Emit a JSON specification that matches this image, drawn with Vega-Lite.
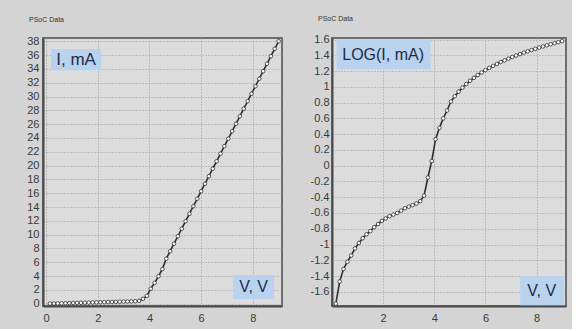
{
  "$schema": "https://vega.github.io/schema/vega-lite/v6.json",
  "background": "#d4d4d4",
  "padding": {"left": 12, "top": 13, "right": 5, "bottom": 5},
  "spacing": 17,
  "config": {
    "view": {"fill": "#dcdcdc", "stroke": "#6e6e6e", "strokeWidth": 2},
    "axis": {
      "grid": true, "gridColor": "#9c9c9c", "gridDash": [1, 2], "gridWidth": 1,
      "domainColor": "#4a4a4a", "domainWidth": 2, "ticks": false,
      "labelFont": "Liberation Sans", "labelFontSize": 11, "labelColor": "#3a3a3a",
      "labelOverlap": false, "labelBound": false, "labelFlush": false,
      "tickCount": 40,
      "title": null
    },
    "title": {"font": "Liberation Sans", "fontSize": 7, "fontWeight": "normal", "color": "#333333", "anchor": "start", "offset": 12, "dx": 16}
  },
  "datasets": {
    "iv": [
      {"V": 0.15, "I": 0.018, "L": -1.75},
      {"V": 0.30, "I": 0.034, "L": -1.47},
      {"V": 0.45, "I": 0.049, "L": -1.31},
      {"V": 0.60, "I": 0.060, "L": -1.22},
      {"V": 0.75, "I": 0.072, "L": -1.14},
      {"V": 0.90, "I": 0.089, "L": -1.05},
      {"V": 1.05, "I": 0.105, "L": -0.98},
      {"V": 1.20, "I": 0.120, "L": -0.92},
      {"V": 1.35, "I": 0.135, "L": -0.87},
      {"V": 1.50, "I": 0.148, "L": -0.83},
      {"V": 1.65, "I": 0.166, "L": -0.78},
      {"V": 1.80, "I": 0.182, "L": -0.74},
      {"V": 1.95, "I": 0.200, "L": -0.70},
      {"V": 2.10, "I": 0.214, "L": -0.67},
      {"V": 2.25, "I": 0.229, "L": -0.64},
      {"V": 2.40, "I": 0.240, "L": -0.62},
      {"V": 2.55, "I": 0.251, "L": -0.60},
      {"V": 2.70, "I": 0.269, "L": -0.57},
      {"V": 2.85, "I": 0.288, "L": -0.54},
      {"V": 3.00, "I": 0.302, "L": -0.52},
      {"V": 3.15, "I": 0.316, "L": -0.50},
      {"V": 3.30, "I": 0.331, "L": -0.48},
      {"V": 3.45, "I": 0.355, "L": -0.45},
      {"V": 3.60, "I": 0.417, "L": -0.38},
      {"V": 3.75, "I": 0.708, "L": -0.15},
      {"V": 3.90, "I": 1.148, "L": 0.06},
      {"V": 4.05, "I": 2.17, "L": 0.336},
      {"V": 4.20, "I": 3.02, "L": 0.48},
      {"V": 4.35, "I": 3.98, "L": 0.60},
      {"V": 4.50, "I": 5.01, "L": 0.70},
      {"V": 4.65, "I": 6.52, "L": 0.814},
      {"V": 4.80, "I": 7.60, "L": 0.881},
      {"V": 4.95, "I": 8.69, "L": 0.939},
      {"V": 5.10, "I": 9.77, "L": 0.990},
      {"V": 5.25, "I": 10.86, "L": 1.036},
      {"V": 5.40, "I": 11.95, "L": 1.077},
      {"V": 5.55, "I": 13.03, "L": 1.115},
      {"V": 5.70, "I": 14.12, "L": 1.150},
      {"V": 5.85, "I": 15.20, "L": 1.182},
      {"V": 6.00, "I": 16.29, "L": 1.212},
      {"V": 6.15, "I": 17.38, "L": 1.240},
      {"V": 6.30, "I": 18.46, "L": 1.266},
      {"V": 6.45, "I": 19.55, "L": 1.291},
      {"V": 6.60, "I": 20.63, "L": 1.315},
      {"V": 6.75, "I": 21.72, "L": 1.337},
      {"V": 6.90, "I": 22.81, "L": 1.358},
      {"V": 7.05, "I": 23.89, "L": 1.378},
      {"V": 7.20, "I": 24.98, "L": 1.398},
      {"V": 7.35, "I": 26.06, "L": 1.416},
      {"V": 7.50, "I": 27.15, "L": 1.434},
      {"V": 7.65, "I": 28.24, "L": 1.451},
      {"V": 7.80, "I": 29.32, "L": 1.467},
      {"V": 7.95, "I": 30.41, "L": 1.483},
      {"V": 8.10, "I": 31.49, "L": 1.498},
      {"V": 8.25, "I": 32.58, "L": 1.513},
      {"V": 8.40, "I": 33.67, "L": 1.527},
      {"V": 8.55, "I": 34.75, "L": 1.541},
      {"V": 8.70, "I": 35.84, "L": 1.554},
      {"V": 8.85, "I": 36.92, "L": 1.567},
      {"V": 9.00, "I": 38.01, "L": 1.580}
    ]
  },
  "hconcat": [
    {
      "width": 239,
      "height": 268,
      "title": {"text": "PSoC Data"},
      "layer": [
        {
          "data": {"values": [{}]},
          "mark": {"type": "rect", "fill": "#b9d3ee"},
          "encoding": {
            "x": {"datum": 0.19, "type": "quantitative", "scale": {"domain": [-0.12, 9.13], "nice": false, "zero": false}, "axis": {"values": [0, 2, 4, 6, 8], "format": "d", "labelPadding": 6}},
            "x2": {"datum": 2.13},
            "y": {"datum": 36.9, "type": "quantitative", "scale": {"domain": [-0.33, 38.48], "nice": false, "zero": false}, "axis": {"values": [0,2,4,6,8,10,12,14,16,18,20,22,24,26,28,30,32,34,36,38], "format": "d", "labelPadding": 4, "minExtent": 30, "maxExtent": 30}},
            "y2": {"datum": 33.8}
          }
        },
        {
          "data": {"values": [{}]},
          "mark": {"type": "text", "text": "I, mA", "font": "Liberation Sans", "fontSize": 17, "color": "#1d2b45", "baseline": "middle", "align": "center"},
          "encoding": {
            "x": {"datum": 1.16, "type": "quantitative"},
            "y": {"datum": 35.3, "type": "quantitative"}
          }
        },
        {
          "data": {"values": [{}]},
          "mark": {"type": "rect", "fill": "#b9d3ee"},
          "encoding": {
            "x": {"datum": 7.23, "type": "quantitative"},
            "x2": {"datum": 8.82},
            "y": {"datum": 4.15, "type": "quantitative"},
            "y2": {"datum": 0.68}
          }
        },
        {
          "data": {"values": [{}]},
          "mark": {"type": "text", "text": "V, V", "font": "Liberation Sans", "fontSize": 16, "color": "#1d2b45", "baseline": "middle", "align": "center"},
          "encoding": {
            "x": {"datum": 8.03, "type": "quantitative"},
            "y": {"datum": 2.4, "type": "quantitative"}
          }
        },
        {
          "data": {"name": "iv"},
          "mark": {"type": "line", "color": "#2e2e2e", "strokeWidth": 1.6},
          "encoding": {
            "x": {"field": "V", "type": "quantitative"},
            "y": {"field": "I", "type": "quantitative"}
          }
        },
        {
          "data": {"name": "iv"},
          "mark": {"type": "point", "shape": "circle", "filled": true, "fill": "#ffffff", "stroke": "#2e2e2e", "strokeWidth": 0.8, "size": 13, "opacity": 1},
          "encoding": {
            "x": {"field": "V", "type": "quantitative"},
            "y": {"field": "I", "type": "quantitative"}
          }
        }
      ]
    },
    {
      "width": 234,
      "height": 268,
      "title": {"text": "PSoC Data"},
      "layer": [
        {
          "data": {"values": [{}]},
          "mark": {"type": "rect", "fill": "#b9d3ee"},
          "encoding": {
            "x": {"datum": 0.18, "type": "quantitative", "scale": {"domain": [0, 9.15], "nice": false, "zero": false}, "axis": {"values": [2, 4, 6, 8], "format": "d", "labelPadding": 6}},
            "x2": {"datum": 3.85},
            "y": {"datum": 1.6, "type": "quantitative", "scale": {"domain": [-1.78, 1.62], "nice": false, "zero": false}, "axis": {"values": [-1.6,-1.4,-1.2,-1,-0.8,-0.6,-0.4,-0.2,0,0.2,0.4,0.6,0.8,1,1.2,1.4,1.6], "labelExpr": "'' + round(datum.value * 10) / 10", "labelPadding": 3, "minExtent": 30, "maxExtent": 30}},
            "y2": {"datum": 1.22}
          }
        },
        {
          "data": {"values": [{}]},
          "mark": {"type": "text", "text": "LOG(I, mA)", "font": "Liberation Sans", "fontSize": 16, "color": "#1d2b45", "baseline": "middle", "align": "center"},
          "encoding": {
            "x": {"datum": 2.0, "type": "quantitative"},
            "y": {"datum": 1.41, "type": "quantitative"}
          }
        },
        {
          "data": {"values": [{}]},
          "mark": {"type": "rect", "fill": "#b9d3ee"},
          "encoding": {
            "x": {"datum": 7.36, "type": "quantitative"},
            "x2": {"datum": 9.08},
            "y": {"datum": -1.40, "type": "quantitative"},
            "y2": {"datum": -1.77}
          }
        },
        {
          "data": {"values": [{}]},
          "mark": {"type": "text", "text": "V, V", "font": "Liberation Sans", "fontSize": 16, "color": "#1d2b45", "baseline": "middle", "align": "center"},
          "encoding": {
            "x": {"datum": 8.2, "type": "quantitative"},
            "y": {"datum": -1.59, "type": "quantitative"}
          }
        },
        {
          "data": {"name": "iv"},
          "mark": {"type": "line", "color": "#2e2e2e", "strokeWidth": 1.6},
          "encoding": {
            "x": {"field": "V", "type": "quantitative"},
            "y": {"field": "L", "type": "quantitative"}
          }
        },
        {
          "data": {"name": "iv"},
          "mark": {"type": "point", "shape": "circle", "filled": true, "fill": "#ffffff", "stroke": "#2e2e2e", "strokeWidth": 0.8, "size": 13, "opacity": 1},
          "encoding": {
            "x": {"field": "V", "type": "quantitative"},
            "y": {"field": "L", "type": "quantitative"}
          }
        }
      ]
    }
  ]
}
